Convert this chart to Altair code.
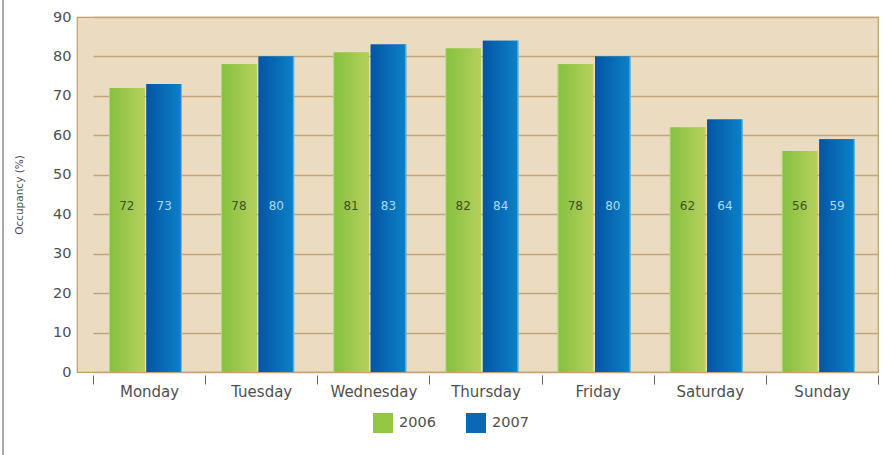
import altair as alt
import pandas as pd

# Weekly occupancy, two years side by side
days = ["Monday", "Tuesday", "Wednesday", "Thursday", "Friday", "Saturday", "Sunday"]
years = ["2006", "2007"]
occ_2006 = [72, 78, 81, 82, 78, 62, 56]
occ_2007 = [73, 80, 83, 84, 80, 64, 59]
y_ticks = [0, 10, 20, 30, 40, 50, 60, 70, 80, 90]

rows = []
for d, a, b in zip(days, occ_2006, occ_2007):
    rows.append({"Day": d, "Year": "2006", "Occupancy": a})
    rows.append({"Day": d, "Year": "2007", "Occupancy": b})
df = pd.DataFrame(rows)

FONT = "DejaVu Sans"
TEXT_GREY = "#4f4f4f"
LABEL_LEVEL = 42  # value labels sit at the same height inside every bar

x_axis = alt.Axis(
    title=None,
    tickBand="extent",
    domain=False,
    grid=False,
    ticks=True,
    tickSize=9,
    tickColor="#6f6150",
    tickWidth=1,
    offset=3,
    labelPadding=0,
    labelAngle=0,
    labelFont=FONT,
    labelFontSize=15,
    labelColor=TEXT_GREY,
)
x_enc = alt.X(
    "Day:N",
    sort=days,
    scale=alt.Scale(range=[16, 801], paddingInner=0, paddingOuter=0),
    axis=x_axis,
)
# the pair of bars sits a little left of the middle of each day's slot
xoff_enc = alt.XOffset(
    "Year:N",
    scale=alt.Scale(domain=years, range=[16, 89], paddingInner=0.05, paddingOuter=0),
)
y_axis = alt.Axis(
    title="Occupancy (%)",
    values=y_ticks,
    grid=True,
    gridColor="#c2a479",
    gridWidth=1.6,
    ticks=False,
    tickSize=0,
    domain=False,
    labelPadding=6,
    labelFont=FONT,
    labelFontSize=14.5,
    labelColor=TEXT_GREY,
    titleFont=FONT,
    titleFontSize=10.5,
    titleFontWeight="normal",
    titleColor=TEXT_GREY,
    titlePadding=28,
)
y_scale = alt.Scale(domain=[0, 90], nice=False)
y_enc = alt.Y("Occupancy:Q", scale=y_scale, axis=y_axis)

base = alt.Chart(df)

# Solid bars carry the legend
bars = base.mark_bar().encode(
    x=x_enc,
    xOffset=xoff_enc,
    y=y_enc,
    color=alt.Color(
        "Year:N",
        scale=alt.Scale(domain=years, range=["#93c643", "#0a69b4"]),
        legend=alt.Legend(
            title=None,
            orient="none",
            legendX=296,
            legendY=396,
            direction="horizontal",
            symbolType="square",
            symbolSize=400,
            symbolStrokeWidth=0,
            symbolOpacity=1,
            labelOffset=6,
            columnPadding=30,
            labelFont=FONT,
            labelFontSize=14.5,
            labelColor=TEXT_GREY,
        ),
    ),
)


def shaded(year, stops):
    return base.transform_filter(alt.datum.Year == year).mark_bar(
        fill=alt.Gradient(
            gradient="linear",
            x1=0, x2=1, y1=0, y2=0,
            stops=[alt.GradientStop(color=c, offset=o) for o, c in stops],
        )
    ).encode(x=x_enc, xOffset=xoff_enc, y=y_enc)


green_bars = shaded("2006", [(0, "#c9e39a"), (0.04, "#86c23e"), (1, "#b6cf5e")])
blue_bars = shaded("2007", [(0, "#0455a4"), (0.95, "#0b80c6"), (1, "#7fd0f2")])


def value_labels(year, color):
    return base.transform_filter(alt.datum.Year == year).mark_text(
        font=FONT, fontSize=12, color=color, baseline="middle"
    ).encode(
        x=x_enc,
        xOffset=xoff_enc,
        y=alt.YDatum(LABEL_LEVEL, scale=y_scale, axis=y_axis),
        text="Occupancy:Q",
    )


labels_2006 = value_labels("2006", "#3e5220")
labels_2007 = value_labels("2007", "#a9dcf8")

# thin grey frame line down the left side of the figure
frame = alt.Chart(pd.DataFrame({"k": [0]})).mark_rule(
    color="#a9a9a9", strokeWidth=2, clip=False
).encode(x=alt.value(-74), y=alt.value(-17), y2=alt.value(438))

chart = (
    alt.layer(bars, green_bars, blue_bars, labels_2006, labels_2007, frame)
    .properties(
        width=801,
        height=355,
        autosize=alt.AutoSizeParams(type="none"),
        padding={"left": 77, "top": 17, "right": 7, "bottom": 83},
        background="#ffffff",
    )
    .configure(font=FONT)
    .configure_view(fill="#ebdcc1", stroke="#bf9d68", strokeWidth=1.2)
)

chart.save("out.html", embed_options={"renderer": "svg", "actions": False})
